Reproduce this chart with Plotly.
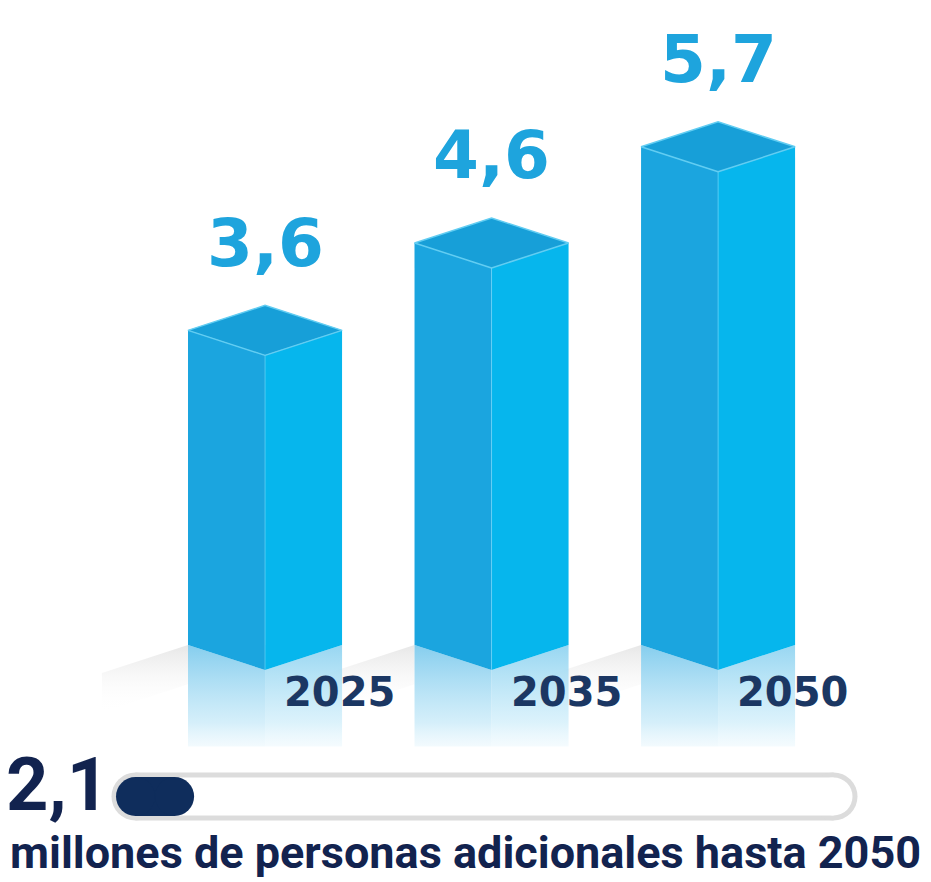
import plotly.graph_objects as go

years = ["2025", "2035", "2050"]
values = [3.6, 4.6, 5.7]              # millones de personas
value_labels = ["3,6", "4,6", "5,7"]
extra_value = 2.1
extra_label = "2,1"
extra_text = "millones de personas adicionales hasta 2050"

# look of the isometric prisms (axis units)
HALF_W = 0.34      # half width of a prism in category units
DEPTH = 0.286      # drop of the side edges in value units
REFL = 1.2         # length of the reflection below the floor
FLOOR_L = 0.38     # length of the grey floor band left of each prism
TRACK_MAX = 37.5   # scale of the progress track

LEFT_C = "#1ba5df"
RIGHT_C = "#06b6ed"
TOP_C = "#179fd8"
EDGE_C = "#62cdf2"
LABEL_C = "#1ea4dd"
YEAR_C = "#1b3763"
NAVY = "#12234f"

fig = go.Figure()


def poly(xs, ys, color, line=None, grad=None):
    fig.add_trace(go.Scatter(
        x=xs + [xs[0]], y=ys + [ys[0]], mode="lines", fill="toself",
        fillcolor=color, fillgradient=grad,
        line=line if line else dict(width=0, color=color),
        hoverinfo="skip", showlegend=False))


slope = DEPTH / HALF_W

# grey floor bands
for i, v in enumerate(values):
    x0 = i - HALF_W
    y0 = DEPTH
    xs = [x0, x0 - FLOOR_L, x0 - FLOOR_L, x0]
    ys = [y0, y0 - FLOOR_L * slope, y0 - FLOOR_L * slope - 0.45, y0 - 0.45]
    poly(xs, ys, "rgba(220,220,220,0.4)",
         grad=dict(type="vertical", start=y0 - FLOOR_L * slope - 0.45, stop=y0,
                   colorscale=[[0, "rgba(255,255,255,0)"], [1, "rgba(215,215,215,0.6)"]]))

# reflections
for i, v in enumerate(values):
    poly([i - HALF_W, i, i, i - HALF_W], [DEPTH, 0, -REFL, -REFL], "#b5e2f5",
         grad=dict(type="vertical", start=-REFL, stop=DEPTH,
                   colorscale=[[0, "rgba(255,255,255,0)"], [0.4, "rgba(195,232,248,0.7)"],
                               [1, "rgba(120,200,236,0.9)"]]))
    poly([i, i + HALF_W, i + HALF_W, i], [0, DEPTH, -REFL, -REFL], "#c5e9f7",
         grad=dict(type="vertical", start=-REFL, stop=DEPTH,
                   colorscale=[[0, "rgba(255,255,255,0)"], [0.4, "rgba(205,237,250,0.7)"],
                               [1, "rgba(140,210,240,0.9)"]]))

# prisms
for i, v in enumerate(values):
    poly([i - HALF_W, i - HALF_W, i, i], [DEPTH, v + DEPTH, v, 0], LEFT_C)
    poly([i, i, i + HALF_W, i + HALF_W], [0, v, v + DEPTH, DEPTH], RIGHT_C)
    poly([i, i - HALF_W, i, i + HALF_W], [v, v + DEPTH, v + 2 * DEPTH, v + DEPTH], TOP_C,
         line=dict(width=1.5, color=EDGE_C))
    fig.add_trace(go.Scatter(x=[i, i], y=[0, v], mode="lines",
                             line=dict(width=1, color="rgba(120,215,248,0.6)"),
                             hoverinfo="skip", showlegend=False))

# value and year labels
for i, v in enumerate(values):
    fig.add_annotation(x=i, y=v + 2 * DEPTH, text=f"<b>{value_labels[i]}</b>",
                       showarrow=False, yanchor="middle", yshift=62,
                       font=dict(family="DejaVu Sans", size=66, color=LABEL_C))
    fig.add_annotation(x=i + 0.33, y=-0.25, text=f"<b>{years[i]}</b>",
                       showarrow=False, yanchor="middle",
                       font=dict(family="DejaVu Sans", size=40, color=YEAR_C))

# progress track (pills = thick line + round end markers)
def pill(x_end, size, color):
    fig.add_trace(go.Scatter(x=[0, x_end], y=[0, 0], mode="lines+markers",
                             line=dict(width=size, color=color),
                             marker=dict(size=size, color=color, line=dict(width=0)),
                             xaxis="x2", yaxis="y2", hoverinfo="skip", showlegend=False))


pill(TRACK_MAX, 48, "#dcdcdc")
pill(TRACK_MAX, 38, "white")
pill(extra_value, 39, "#0f2d5c")

fig.add_annotation(xref="paper", yref="paper", x=4 / 931, y=(882 - 784) / 882,
                   text=f"<b>{extra_label}</b>", showarrow=False,
                   xanchor="left", yanchor="middle",
                   font=dict(family="Roboto", size=74, color=NAVY))
fig.add_annotation(xref="paper", yref="paper", x=0.5, y=(882 - 852) / 882,
                   text=f"<b>{extra_text}</b>", showarrow=False,
                   xanchor="center", yanchor="middle",
                   font=dict(family="Roboto", size=45, color=NAVY))

fig.update_layout(
    width=931, height=882,
    margin=dict(l=0, r=0, t=0, b=0),
    paper_bgcolor="white", plot_bgcolor="white",
    showlegend=False,
    xaxis=dict(range=[-1.170, 2.940], visible=False, fixedrange=True),
    yaxis=dict(range=[-2.4256, 7.666], visible=False, fixedrange=True),
    xaxis2=dict(domain=[0, 1], anchor="y2",
                range=[-135.5 * TRACK_MAX / 698, (931 - 135.5) * TRACK_MAX / 698],
                visible=False, fixedrange=True),
    yaxis2=dict(domain=[(882 - 846.5) / 882, (882 - 746.5) / 882], anchor="x2",
                range=[-1, 1], visible=False, fixedrange=True),
)

fig.write_html("out.html", config={"displayModeBar": False},
               post_script="document.body.style.margin='0';")
